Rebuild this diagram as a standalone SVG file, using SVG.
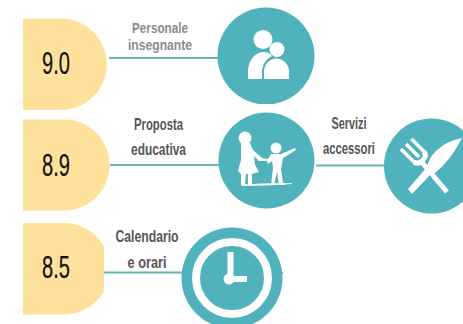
<svg xmlns="http://www.w3.org/2000/svg" width="463" height="324" viewBox="0 0 463 324">
<style>
.badge{fill:#fee29b}
.disc{fill:#50b2bc}
.ico{fill:#fff}
.icoS{fill:none;stroke:#fff}
.conn{stroke:#68b5b5;stroke-width:2;fill:none}
.num{font-family:"Liberation Sans Narrow","Liberation Sans",sans-serif;font-size:31px;fill:#111;text-anchor:middle;stroke:#111;stroke-width:.2}
.lab{font-family:"Liberation Sans Narrow","Liberation Sans",sans-serif;font-size:17px;font-weight:700;text-anchor:middle}
.lab.g1{font-size:15.500px}
.g1{fill:#8b8b8d}
.g2{fill:#555558}
</style>
<defs>
<clipPath id="c1"><rect x="210" y="0" width="120" height="104"/></clipPath>
<clipPath id="c3"><rect x="0" y="210" width="104" height="114"/></clipPath>
</defs>
<rect width="463" height="324" fill="#fff"/>
<g id="connectors">
<path class="conn" d="M109 58H218"/>
<path class="conn" d="M110 165H219"/>
<path class="conn" d="M316 165.500H385"/>
<path class="conn" d="M104 272.500H182"/>
<path class="conn" d="M281 273H283"/>
</g>
<g id="score-90">
<path class="badge" d="M23 18.500H61A45.500 45.500 0 0 1 61 110H23Z"/>
<text class="num" x="56" y="74" textLength="28" lengthAdjust="spacingAndGlyphs">9.0</text>
</g>
<g id="score-89">
<path class="badge" d="M23 119.500H64A45.500 45.500 0 0 1 64 210.500H23Z"/>
<text class="num" x="56" y="176" textLength="28" lengthAdjust="spacingAndGlyphs">8.9</text>
</g>
<g id="score-85">
<path class="badge" clip-path="url(#c3)" d="M23 223H64A45.500 45.500 0 0 1 64 314.500H23Z"/>
<text class="num" x="56" y="278" textLength="28" lengthAdjust="spacingAndGlyphs">8.5</text>
</g>
<g id="label-personale">
<text class="lab g1" x="160" y="32.500" textLength="56" lengthAdjust="spacingAndGlyphs">Personale</text>
<text class="lab g1" x="160" y="50" textLength="64" lengthAdjust="spacingAndGlyphs">insegnante</text>
</g>
<g id="label-proposta">
<text class="lab g2" x="158.500" y="130" textLength="49" lengthAdjust="spacingAndGlyphs">Proposta</text>
<text class="lab g2" x="158.500" y="155" textLength="55" lengthAdjust="spacingAndGlyphs">educativa</text>
</g>
<g id="label-servizi">
<text class="lab g2" x="349" y="129" textLength="35" lengthAdjust="spacingAndGlyphs">Servizi</text>
<text class="lab g2" x="349" y="154" textLength="52" lengthAdjust="spacingAndGlyphs">accessori</text>
</g>
<g id="label-calendario">
<text class="lab g2" x="147" y="242" textLength="63" lengthAdjust="spacingAndGlyphs">Calendario</text>
<text class="lab g2" x="147" y="268" textLength="39" lengthAdjust="spacingAndGlyphs">e orari</text>
</g>
<g id="node-personale">
<circle class="disc" cx="266" cy="56" r="48.500" clip-path="url(#c1)"/>
<circle class="ico" cx="263" cy="39.500" r="9.500"/>
<path class="ico" d="M248 79V72C248 60 255 52 264 52C267 52 270 53 272 56C266 59 262 65 262 72V79Z"/>
<circle class="ico" cx="277" cy="49.500" r="7.500"/>
<path class="ico" d="M264 79V72C264 64 270 58.500 276 58.500C283 58.500 289 64 289 72V79Z"/>
</g>
<g id="node-proposta">
<circle class="disc" cx="266.500" cy="160.500" r="48"/>
<circle class="ico" cx="245" cy="138" r="6.500"/>
<path class="ico" d="M241 142L250 143L253 150L262 158L268 159L267 161L259 161L254 156L255 165L259 172L252 174V184H254V185H248V174H246L245 184H247V185H241V174L238 171L241 160Z"/>
<circle class="ico" cx="276" cy="148" r="5.500"/>
<path class="ico" d="M271 154L281 154L295 148L296 150L283 158L281 169L283 183H285V185H279L277 172L274 185H271L273 168L272 161L268 164L267 161Z"/>
<path class="ico" d="M241 185Q258 183 292 183V184Q266 186 242 186Z"/>
</g>
<g id="node-servizi">
<circle class="disc" cx="431.500" cy="166" r="47.500"/>
<g class="icoS" stroke-width="3.500">
<path d="M420 160L447 192" stroke-width="5"/>
<path d="M401 149L414 162"/>
<path d="M406 144L419 157"/>
<path d="M411.500 139L424 151.500"/>
<path d="M414 162Q419 165 423 160Q427 156 424 151.500" stroke-width="5"/>
</g>
<path class="ico" d="M462 138Q446 141 436 151Q429 158 427 167L408 189L412 194L431 174L435 173Q451 160 462 138Z"/>
</g>
<g id="node-calendario">
<circle class="disc" cx="232" cy="278" r="50.500"/>
<circle class="icoS" cx="232" cy="278" r="36" stroke-width="8"/>
<rect class="ico" x="227.500" y="252" width="6" height="27"/>
<rect class="ico" x="229" y="276" width="18" height="6"/>
<circle class="ico" cx="229" cy="279" r="5.500"/>
</g>
</svg>
